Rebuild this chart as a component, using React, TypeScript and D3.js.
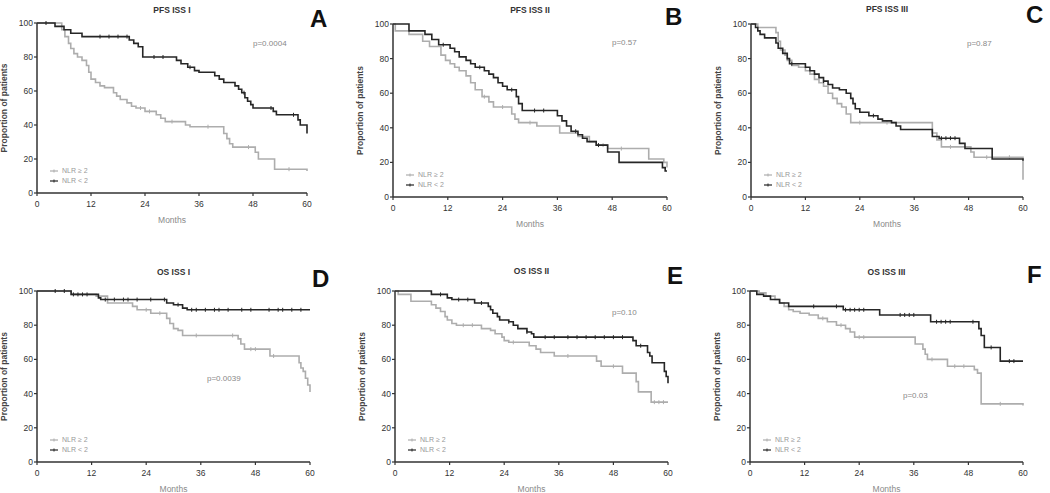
import React from "react";
import * as d3 from "d3";

// ---------- data ----------
const monthTicks = [0, 12, 24, 36, 48, 60];
const pctTicks = [0, 20, 40, 60, 80, 100];
const panelTitles = ["PFS ISS I", "PFS ISS II", "PFS ISS III", "OS ISS I", "OS ISS II", "OS ISS III"];
const panelLetters = ["A", "B", "C", "D", "E", "F"];
const pValues = ["p=0.0004", "p=0.57", "p=0.87", "p=0.0039", "p=0.10", "p=0.03"];
const seriesNames = ["NLR \u2265 2", "NLR < 2"];

type Pt = [number, number];

// PFS ISS I
const pfs1High: Pt[] = [[0,100],[5.5,96],[6.2,92],[7,88],[7.5,85],[8.2,82],[9,80],[10,78],[11,75],[11.5,71],[12,67],[13,65],[14,63],[15,62],[17,59],[17.7,57],[18.5,55],[20,53],[21,51],[22,50],[24,48],[26.5,46],[27.5,44],[28.5,42],[33,40],[34,39],[41.5,35],[42.2,32],[42.8,29],[43.5,27],[48.5,24],[49.2,20],[52.8,14],[60,13]];
const pfs1Low: Pt[] = [[0,100],[4,98],[6,96],[7.5,94],[10,92],[20.5,90],[21.5,88],[22.5,86],[23.5,80],[31,78],[32,76],[33.5,74],[35,72],[36,71],[39.5,69],[40.5,67],[41.5,65],[44,63],[44.8,61],[45.5,59],[46.2,56],[46.8,54],[47.5,52],[48,50],[52.5,48],[53.2,46],[58,43],[58.5,40],[59.8,40],[60,35]];
const pfs1HighCens = [23, 25, 30, 38, 47, 56];
const pfs1LowCens = [2, 14, 16, 18, 20, 26, 28, 34, 46, 52, 57];

// PFS ISS II
const pfs2High: Pt[] = [[0,100],[0.5,96],[3.5,94],[6.5,90],[8,87],[10.5,82],[11.5,79],[12.5,77],[13.5,75],[14.5,73],[16,70],[17,66],[18,62],[19.5,58],[21,55],[22,52],[26,48],[26.7,45],[27.5,43],[31.5,41],[36.5,37],[40.5,35],[43,32],[44.5,30],[47,28],[56,22],[59.3,20],[60,17]];
const pfs2Low: Pt[] = [[0,100],[3.5,96],[7,94],[8.5,91],[10,88],[12.5,86],[13.5,84],[14.5,81],[16,79],[17,77],[18,75],[20,73],[21,71],[22,69],[23,66],[24,64],[25,62],[27,58],[27.5,54],[28.3,50],[36,47],[37,44],[38,41],[39,38],[40.5,36],[41.5,34],[42.5,32],[44.5,30],[47,26],[49.5,20],[59,17],[59.6,15],[60,15]];
const pfs2HighCens = [20, 24, 30, 46, 50];
const pfs2LowCens = [11, 19, 26, 31, 33, 40, 45];

// PFS ISS III
const pfs3High: Pt[] = [[0,100],[1.5,98],[5.5,95],[6,90],[6.5,85],[7.5,82],[8,79],[9,76],[10.5,75],[12,73],[13,71],[14,68],[15,66],[16,64],[17,60],[18,57],[19,54],[20,52],[21,48],[22,43],[40,37],[41,33],[42,29],[48.5,26],[49.2,23],[59.8,23],[60,10]];
const pfs3Low: Pt[] = [[0,100],[1,98],[1.5,96],[2,94],[3,92],[5.5,89],[6,86],[7,83],[8,80],[8.5,77],[12,75],[13,73],[14,71],[15,69],[16,67],[17,65],[18,63],[19.5,62],[21,60],[22,57],[22.5,54],[23,51],[24,49],[26,47],[28,45],[29,44],[31,43],[32,41],[33,39],[40,35],[41.5,34],[46,31],[47.2,28],[53.2,22],[60,21]];
const pfs3HighCens = [24, 30, 44, 52, 57];
const pfs3LowCens = [9, 16, 27, 42, 43, 44, 45];

// OS ISS I
const os1High: Pt[] = [[0,100],[7.5,98],[13,97],[15.5,93],[21,91],[22,89],[25,87],[28.5,84],[29.2,81],[30,78],[31,77],[32,74],[44.2,72],[44.8,69],[45.6,66],[51.2,62],[57.6,58],[58,55],[58.5,53],[59,49],[59.5,45],[60,41]];
const os1Low: Pt[] = [[0,100],[7.5,98],[13.5,96],[14,95],[28.5,93],[30,92],[32,90],[33,89],[60,89]];
const os1HighCens = [24, 27, 35, 43, 47, 48, 52];
const os1LowCens = [4, 6, 8, 9, 10, 11, 15, 17, 19, 20, 22, 25, 28, 31, 34, 35, 37, 39, 40, 42, 45, 47, 51, 53, 54, 56, 58];

// OS ISS II
const os2High: Pt[] = [[0,100],[0.7,98],[3.5,94],[8,92],[9,90],[10,88],[11,85],[11.5,83],[12.5,81],[13.5,80],[19,78],[21,77],[22,75],[23.5,73],[24,71],[25,70],[29.5,68],[31,66],[32,64],[35,62],[44.3,59],[45.3,56],[50,52],[53,47],[53.5,41],[56.3,35],[60,35]];
const os2Low: Pt[] = [[0,100],[8,98],[11.5,96],[12.5,95],[17.5,93],[20.5,91],[21,89],[21.5,87],[22.5,85],[23,83],[25,82],[26,80],[27,78],[29,76],[30,75],[30.5,73],[52.3,71],[53,68],[55.5,64],[56,62],[56.5,58],[59.2,53],[59.6,50],[60,46]];
const os2HighCens = [15, 17, 26, 38, 48, 57, 58, 59];
const os2LowCens = [10, 14, 16, 19, 25, 29, 33, 35, 38, 40, 42, 44, 46, 48, 50, 54];

// OS ISS III
const os3High: Pt[] = [[0,100],[2,99],[3.5,97],[5.5,95],[6.5,93],[7.5,91],[8.5,89],[9.5,88],[11,87],[13,86],[15,84],[17,82],[19,80],[21,78],[22,76],[23,73],[36.3,69],[38,66],[38.5,63],[39,60],[43.4,56],[49.3,54],[50,52],[50.8,34],[60,33]];
const os3Low: Pt[] = [[0,100],[1.5,98],[3,97],[4.5,95],[6.5,93],[8.5,91],[20.5,89],[28.5,86],[39.7,82],[50.3,78],[50.8,74],[51.5,67],[55,59],[60,59]];
const os3HighCens = [16, 20, 24, 25, 40, 45, 47, 55];
const os3LowCens = [14, 19, 21, 22, 23, 24, 25, 33, 34, 35, 36, 41, 42, 43, 44, 49, 53, 57, 58];

const highCurves = [pfs1High, pfs2High, pfs3High, os1High, os2High, os3High];
const lowCurves = [pfs1Low, pfs2Low, pfs3Low, os1Low, os2Low, os3Low];
const highCens = [pfs1HighCens, pfs2HighCens, pfs3HighCens, os1HighCens, os2HighCens, os3HighCens];
const lowCens = [pfs1LowCens, pfs2LowCens, pfs3LowCens, os1LowCens, os2LowCens, os3LowCens];

// ---------- layout ----------
const layout = [
  { x0: 37, x1: 307, yTop: 23, yBot: 193, titleY: 13, letter: [310, 27], p: [253, 46] },
  { x0: 393, x1: 667, yTop: 24, yBot: 197, titleY: 13, letter: [665, 25], p: [612, 45] },
  { x0: 751, x1: 1023, yTop: 24, yBot: 197, titleY: 12, letter: [1026, 23], p: [967, 46] },
  { x0: 37, x1: 310, yTop: 291, yBot: 462, titleY: 275, letter: [312, 287], p: [207, 381] },
  { x0: 395, x1: 668, yTop: 291, yBot: 462, titleY: 274, letter: [667, 284], p: [612, 315] },
  { x0: 750, x1: 1023, yTop: 291, yBot: 462, titleY: 275, letter: [1027, 283], p: [903, 398] },
];

const DARK = "#262626";
const LIGHT = "#adadad";
const FONT = "'Liberation Sans', Arial, sans-serif";

function stepValue(curve: Pt[], t: number) {
  let v = curve[0][1];
  for (const [tt, vv] of curve) {
    if (tt <= t) v = vv;
    else break;
  }
  return v;
}

function Panel({ i }: { i: number }) {
  const L = layout[i];
  const x = d3.scaleLinear().domain([0, 60]).range([L.x0, L.x1]);
  const y = d3.scaleLinear().domain([0, 100]).range([L.yBot, L.yTop]);
  const line = d3
    .line<Pt>()
    .x((d) => x(d[0]))
    .y((d) => y(d[1]))
    .curve(d3.curveStepAfter);
  const cx = (L.x0 + L.x1) / 2;
  const cy = (L.yTop + L.yBot) / 2;
  const curves = [
    { data: highCurves[i], cens: highCens[i], color: LIGHT },
    { data: lowCurves[i], cens: lowCens[i], color: DARK },
  ];
  return (
    <g>
      <text x={cx} y={L.titleY} textAnchor="middle" fontSize={8.5} fontWeight="bold" fill="#333" fontFamily={FONT}>
        {panelTitles[i]}
      </text>
      <text x={L.letter[0]} y={L.letter[1]} fontSize={24} fontWeight="bold" fill="#111" fontFamily={FONT}>
        {panelLetters[i]}
      </text>
      <text x={L.p[0]} y={L.p[1]} fontSize={8} fill="#888" fontFamily={FONT}>
        {pValues[i]}
      </text>
      {curves.map((c, k) => (
        <g key={k}>
          <path d={line(c.data) || ""} fill="none" stroke={c.color} strokeWidth={1.6} />
          {c.cens.map((t, j) => (
            <line key={j} x1={x(t)} x2={x(t)} y1={y(stepValue(c.data, t)) - 2} y2={y(stepValue(c.data, t)) + 2} stroke={c.color} strokeWidth={1} />
          ))}
        </g>
      ))}
      {/* axes */}
      <line x1={L.x0} x2={L.x0} y1={L.yTop} y2={L.yBot} stroke="#333" strokeWidth={1.5} />
      <line x1={L.x0} x2={L.x1} y1={L.yBot} y2={L.yBot} stroke="#333" strokeWidth={1.5} />
      {pctTicks.map((v) => (
        <g key={"y" + v}>
          <line x1={L.x0 - 3} x2={L.x0} y1={y(v)} y2={y(v)} stroke="#333" strokeWidth={1.2} />
          <text x={L.x0 - 4} y={y(v) + 3} textAnchor="end" fontSize={8.5} fill="#333" fontFamily={FONT}>
            {v}
          </text>
        </g>
      ))}
      {monthTicks.map((m) => (
        <g key={"x" + m}>
          <line x1={x(m)} x2={x(m)} y1={L.yBot} y2={L.yBot + 3} stroke="#333" strokeWidth={1.2} />
          <text x={x(m)} y={L.yBot + 14} textAnchor="middle" fontSize={8.5} fill="#333" fontFamily={FONT}>
            {m}
          </text>
        </g>
      ))}
      <text x={cx} y={L.yBot + 30} textAnchor="middle" fontSize={8.5} fill="#8a8a8a" fontFamily={FONT}>
        Months
      </text>
      <text
        transform={`translate(${L.x0 - 30},${cy}) rotate(-90)`}
        textAnchor="middle"
        fontSize={8.5}
        fontWeight="bold"
        fill="#444"
        fontFamily={FONT}
      >
        Proportion of patients
      </text>
      {/* legend */}
      {seriesNames.map((n, k) => {
        const ly = L.yBot - 22 + k * 10;
        const col = k === 0 ? LIGHT : DARK;
        return (
          <g key={n}>
            <line x1={L.x0 + 13} x2={L.x0 + 21} y1={ly} y2={ly} stroke={col} strokeWidth={1.2} />
            <line x1={L.x0 + 17} x2={L.x0 + 17} y1={ly - 1.5} y2={ly + 1.5} stroke={col} strokeWidth={1} />
            <text x={L.x0 + 25} y={ly + 2.4} fontSize={7} fill="#999" fontFamily={FONT}>
              {n}
            </text>
          </g>
        );
      })}
    </g>
  );
}

export default function App() {
  return (
    <svg width={1050} height={493} style={{ position: "absolute", left: 0, top: 0, background: "#fff" }}>
      <rect width={1050} height={493} fill="#fff" />
      {layout.map((_, i) => (
        <Panel key={i} i={i} />
      ))}
    </svg>
  );
}
